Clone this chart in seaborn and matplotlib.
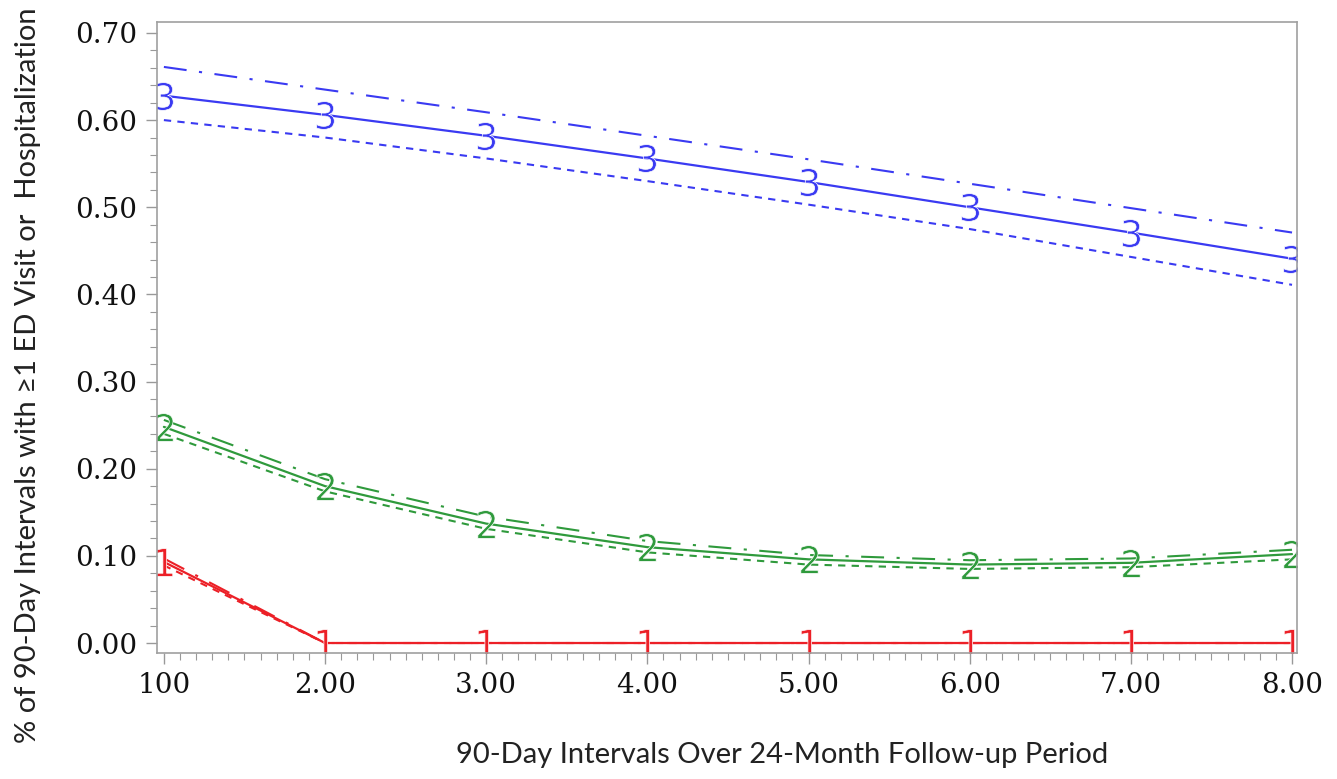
import numpy as np
import pandas as pd
import matplotlib
matplotlib.use("Agg")
import matplotlib.pyplot as plt
import seaborn as sns
from matplotlib.ticker import MultipleLocator, FixedLocator

# Data
intervals = [1, 2, 3, 4, 5, 6, 7, 8]
x_tick_labels = ["100", "2.00", "3.00", "4.00", "5.00", "6.00", "7.00", "8.00"]
y_ticks = [0.0, 0.1, 0.2, 0.3, 0.4, 0.5, 0.6, 0.7]

g3_est = [0.628, 0.606, 0.582, 0.556, 0.529, 0.500, 0.471, 0.441]
g3_upper = [0.661, 0.635, 0.609, 0.582, 0.555, 0.527, 0.499, 0.471]
g3_lower = [0.600, 0.580, 0.556, 0.530, 0.503, 0.475, 0.443, 0.411]

g2_est = [0.248, 0.180, 0.137, 0.110, 0.096, 0.090, 0.092, 0.102]
g2_upper = [0.256, 0.188, 0.145, 0.117, 0.101, 0.095, 0.097, 0.107]
g2_lower = [0.240, 0.174, 0.131, 0.104, 0.090, 0.085, 0.087, 0.096]

g1_est = [0.093, 0.0, 0.0, 0.0, 0.0, 0.0, 0.0, 0.0]
g1_upper = [0.097, 0.0, 0.0, 0.0, 0.0, 0.0, 0.0, 0.0]
g1_lower = [0.089, 0.0, 0.0, 0.0, 0.0, 0.0, 0.0, 0.0]

groups = [
    ("3", "#3a3af2", g3_est, g3_upper, g3_lower),
    ("2", "#2f9a3c", g2_est, g2_upper, g2_lower),
    ("1", "#ec2027", g1_est, g1_upper, g1_lower),
]

sns.set_style("white")
plt.rcParams["font.family"] = ["Lato", "DejaVu Sans"]

fig = plt.figure(figsize=(13.37, 7.79), dpi=100)
ax = fig.add_axes([0.1174, 0.1617, 0.8527, 0.8101])

for label, color, est, upper, lower in groups:
    df = pd.DataFrame({"interval": intervals, "est": est,
                       "upper": upper, "lower": lower})
    # upper bound: long dash-dot, lower bound: short dashes
    sns.lineplot(data=df, x="interval", y="upper", ax=ax, color=color,
                 linewidth=1.5, linestyle=(0, (11, 6, 1.5, 6)))
    sns.lineplot(data=df, x="interval", y="lower", ax=ax, color=color,
                 linewidth=1.5, linestyle=(0, (3.5, 3)))
    sns.lineplot(data=df, x="interval", y="est", ax=ax, color=color,
                 linewidth=1.6, marker="$\\mathrm{" + label + "}$",
                 markersize=20, markeredgewidth=0.5)

ax.set_xlim(0.957, 8.031)
ax.set_ylim(-0.0115, 0.7126)

ax.xaxis.set_major_locator(FixedLocator(intervals))
ax.set_xticklabels(x_tick_labels)
ax.xaxis.set_minor_locator(MultipleLocator(0.1))
ax.yaxis.set_major_locator(FixedLocator(y_ticks))
ax.set_yticklabels([f"{v:.2f}" for v in y_ticks])
ax.yaxis.set_minor_locator(MultipleLocator(0.02))

ax.tick_params(which="major", direction="out", length=8, width=1,
               color="#999999", labelsize=20, pad=6, bottom=True, left=True)
ax.tick_params(which="minor", direction="out", length=5, width=0.8,
               color="#999999", bottom=True, left=True)
for lab in ax.get_xticklabels() + ax.get_yticklabels():
    lab.set_family("DejaVu Serif")
    lab.set_color("#111111")

for sp in ax.spines.values():
    sp.set_color("#a0a0a0")
    sp.set_linewidth(1.2)

ax.set_xlabel("90-Day Intervals Over 24-Month Follow-up Period",
              fontsize=21, color="#222222")
ax.set_ylabel("% of 90-Day Intervals with \u22651 ED Visit or  Hospitalization",
              fontsize=21, color="#222222")
ax.xaxis.set_label_coords(0.548, -0.141)
ax.yaxis.set_label_coords(-0.102, 0.44)

fig.savefig("out.png", dpi=100, facecolor="white")
